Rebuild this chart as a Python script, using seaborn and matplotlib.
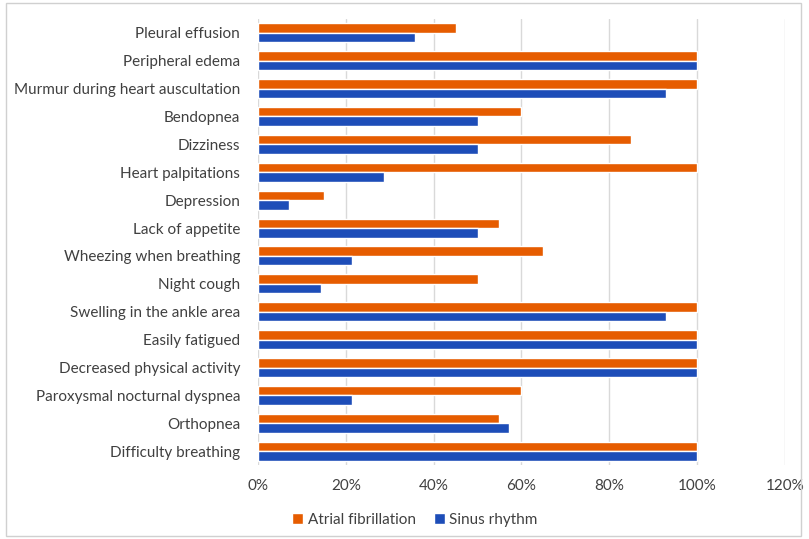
import pandas as pd
import matplotlib.pyplot as plt
import seaborn as sns
from matplotlib.patches import Rectangle
from matplotlib.ticker import PercentFormatter

symptoms = [
    "Pleural effusion",
    "Peripheral edema",
    "Murmur during heart auscultation",
    "Bendopnea",
    "Dizziness",
    "Heart palpitations",
    "Depression",
    "Lack of appetite",
    "Wheezing when breathing",
    "Night cough",
    "Swelling in the ankle area",
    "Easily fatigued",
    "Decreased physical activity",
    "Paroxysmal nocturnal dyspnea",
    "Orthopnea",
    "Difficulty breathing",
]
atrial_fibrillation = [45, 100, 100, 60, 85, 100, 15, 55, 65, 50, 100, 100, 100, 60, 55, 100]
sinus_rhythm = [35.7, 100, 92.9, 50, 50, 28.6, 7.1, 50, 21.4, 14.3, 92.9, 100, 100, 21.4, 57.1, 100]
groups = ["Atrial fibrillation", "Sinus rhythm"]
colors = ["#E65C00", "#1D4DB8"]

df = pd.DataFrame({
    "symptom": symptoms * 2,
    "value": atrial_fibrillation + sinus_rhythm,
    "group": [groups[0]] * len(symptoms) + [groups[1]] * len(symptoms),
})

sns.set_style("white")
plt.rcParams["font.family"] = ["Lato", "DejaVu Sans"]

fig = plt.figure(figsize=(8.09, 5.39), dpi=100)
ax = fig.add_axes([0.319, 0.137, 0.651, 0.828])

sns.barplot(data=df, x="value", y="symptom", hue="group", order=symptoms,
            hue_order=groups, palette=colors, orient="h", width=0.68,
            saturation=1, errorbar=None, ax=ax)

ax.set_xlim(0, 120)
ax.set_xticks(range(0, 121, 20))
ax.xaxis.set_major_formatter(PercentFormatter(decimals=0))
ax.grid(axis="x", color="#d9d9d9", linewidth=1)
ax.set_axisbelow(True)
for s in ax.spines.values():
    s.set_visible(False)
ax.set_xlabel("")
ax.set_ylabel("")
ax.tick_params(axis="both", length=0, labelsize=11, colors="#404040")
ax.tick_params(axis="x", pad=10)
ax.tick_params(axis="y", pad=13)

ax.legend(loc="center", bbox_to_anchor=(0.513, 0.035), bbox_transform=fig.transFigure,
          ncol=2, frameon=False, fontsize=11, handlelength=0.7, handleheight=0.7,
          handletextpad=0.3, columnspacing=1.2, labelcolor="#404040")

fig.patches.append(Rectangle((0.008, 0.006), 0.982, 0.988, transform=fig.transFigure,
                             fill=False, edgecolor="#d0d0d0", linewidth=1))

fig.savefig("out.png", dpi=100)
